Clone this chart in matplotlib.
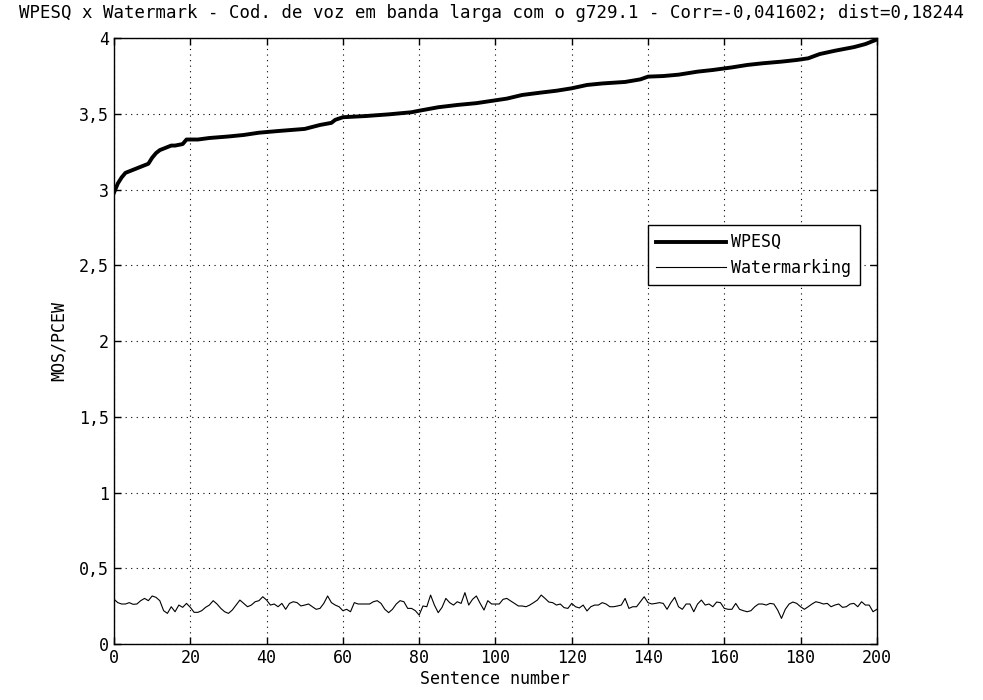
import matplotlib
matplotlib.use("Agg")
import matplotlib.pyplot as plt
from matplotlib.ticker import FuncFormatter

plt.rcParams["font.family"] = ["DejaVu Sans Mono"]

TITLE = "WPESQ x Watermark - Cod. de voz em banda larga com o g729.1 - Corr=-0,041602; dist=0,18244"

# WPESQ (sorted) at selected sentences
wpesq_x = [0, 1, 2, 3, 5, 6, 7, 9, 10, 11, 12, 14, 15, 16, 18, 19, 22, 25, 30, 34,
           38, 43, 50, 54, 57, 58, 60, 66, 72, 78, 80, 85, 90, 95, 99, 103, 107, 112,
           116, 120, 124, 128, 134, 138, 140, 144, 148, 153, 157, 162, 166, 170, 175,
           179, 182, 185, 189, 194, 197, 200]
wpesq_y = [2.98, 3.04, 3.08, 3.11, 3.13, 3.14, 3.15, 3.17, 3.21, 3.24, 3.26, 3.28, 3.29,
           3.29, 3.30, 3.33, 3.33, 3.34, 3.35, 3.36, 3.375, 3.386, 3.40, 3.426, 3.44,
           3.46, 3.477, 3.485, 3.496, 3.51, 3.52, 3.543, 3.558, 3.57, 3.585, 3.60,
           3.624, 3.64, 3.652, 3.668, 3.69, 3.70, 3.71, 3.727, 3.745, 3.749, 3.758,
           3.778, 3.789, 3.806, 3.822, 3.833, 3.844, 3.855, 3.866, 3.894, 3.916, 3.94,
           3.96, 3.99]

# watermarking score, one value per sentence 0..200
wm_y = [
    0.295, 0.273, 0.264, 0.264, 0.273, 0.262, 0.264, 0.286, 0.301, 0.286,
    0.317, 0.308, 0.286, 0.220, 0.202, 0.246, 0.213, 0.257, 0.242, 0.268,
    0.242, 0.209, 0.209, 0.220, 0.242, 0.257, 0.286, 0.264, 0.235, 0.213,
    0.202, 0.224, 0.257, 0.290, 0.268, 0.246, 0.257, 0.279, 0.286, 0.312,
    0.290, 0.257, 0.264, 0.246, 0.268, 0.229, 0.268, 0.279, 0.273, 0.251,
    0.257, 0.264, 0.246, 0.229, 0.235, 0.268, 0.317, 0.273, 0.257, 0.246,
    0.220, 0.229, 0.213, 0.273, 0.264, 0.264, 0.264, 0.264, 0.279, 0.286,
    0.268, 0.229, 0.207, 0.229, 0.264, 0.286, 0.279, 0.235, 0.235, 0.220,
    0.191, 0.251, 0.246, 0.323, 0.257, 0.207, 0.242, 0.301, 0.273, 0.257,
    0.279, 0.268, 0.339, 0.257, 0.295, 0.317, 0.268, 0.224, 0.286, 0.264,
    0.264, 0.264, 0.295, 0.301, 0.284, 0.268, 0.251, 0.251, 0.246, 0.257,
    0.273, 0.290, 0.323, 0.301, 0.277, 0.273, 0.257, 0.264, 0.240, 0.235,
    0.268, 0.246, 0.238, 0.257, 0.218, 0.246, 0.257, 0.257, 0.273, 0.264,
    0.246, 0.246, 0.251, 0.257, 0.301, 0.235, 0.246, 0.246, 0.279, 0.312,
    0.273, 0.264, 0.268, 0.273, 0.268, 0.229, 0.273, 0.308, 0.246, 0.229,
    0.264, 0.264, 0.213, 0.264, 0.290, 0.257, 0.264, 0.246, 0.277, 0.273,
    0.235, 0.229, 0.229, 0.268, 0.229, 0.220, 0.213, 0.220, 0.246, 0.264,
    0.264, 0.257, 0.268, 0.264, 0.224, 0.169, 0.229, 0.264, 0.277, 0.268,
    0.246, 0.229, 0.246, 0.264, 0.279, 0.273, 0.264, 0.268, 0.246, 0.257,
    0.264, 0.242, 0.246, 0.264, 0.268, 0.246, 0.279, 0.257, 0.257, 0.213,
    0.229,
]
wm_x = list(range(len(wm_y)))

x_ticks = list(range(0, 201, 20))
y_ticks = [0, 0.5, 1, 1.5, 2, 2.5, 3, 3.5, 4]


def comma_fmt(v, _pos):
    s = f"{v:g}"
    return s.replace(".", ",")


fig = plt.figure(figsize=(9.83, 7.0), dpi=100)
ax = fig.add_axes([0.116, 0.08, 0.776, 0.8657])

ax.plot(wpesq_x, wpesq_y, color="black", linewidth=2.8, label="WPESQ")
ax.plot(wm_x, wm_y, color="black", linewidth=0.8, label="Watermarking")

ax.set_xlim(0, 200)
ax.set_ylim(0, 4)
ax.set_xticks(x_ticks)
ax.set_yticks(y_ticks)
ax.yaxis.set_major_formatter(FuncFormatter(comma_fmt))
ax.tick_params(direction="in", top=True, right=True, length=5, labelsize=12, width=1)
ax.grid(True, color="black", linestyle=(0, (1, 4)), linewidth=0.8)
for sp in ax.spines.values():
    sp.set_linewidth(1.0)

fig.text(0.5, 0.982, TITLE, fontsize=12.5, ha="center", va="center")
ax.set_xlabel("Sentence number", fontsize=12, labelpad=2)
ax.set_ylabel("MOS/PCEW", fontsize=12, labelpad=8)

leg = ax.legend(loc="upper left", bbox_to_anchor=(0.70, 0.6914), borderaxespad=0,
                fontsize=12, fancybox=False, framealpha=1, edgecolor="black",
                handlelength=4.2, borderpad=0.5, labelspacing=0.45, handletextpad=0.3)
leg.get_frame().set_linewidth(1.0)

fig.savefig("out.png", dpi=100)
